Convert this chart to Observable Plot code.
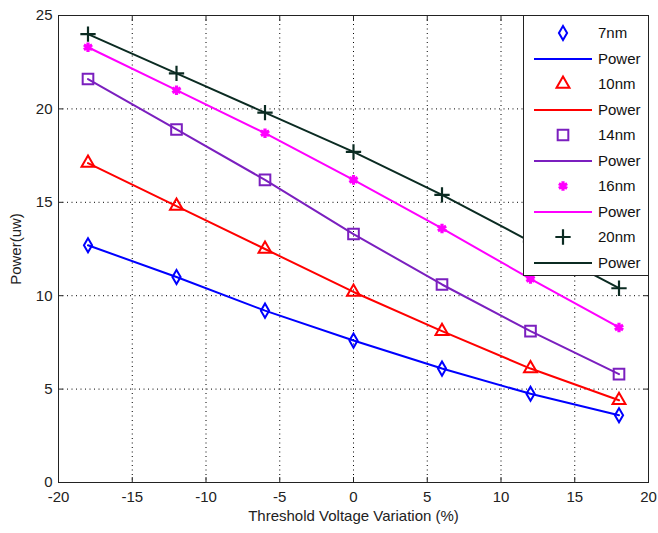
<!DOCTYPE html>
<html>
<head>
<meta charset="utf-8">
<script src="https://cdn.jsdelivr.net/npm/d3@7"></script>
<script src="https://cdn.jsdelivr.net/npm/@observablehq/plot@0.6"></script>
<style>
  html, body { margin: 0; padding: 0; background: #fff; }
  #wrap { position: relative; width: 658px; height: 533px; font-family: "Liberation Sans", Arial, sans-serif; }
  #legend { position: absolute; left: 523px; top: 15px; width: 126px; height: 261px; background: #fff; border: 1px solid #222; box-sizing: border-box; }
  .row { position: absolute; left: 0; height: 26px; width: 126px; }
  .row svg { position: absolute; left: 8px; top: 0; }
  .row span { position: absolute; left: 74px; top: 4px; font-size: 15px; color: #111; }
</style>
</head>
<body>
<div id="wrap"></div>
<script>
const variation = [-18, -12, -6, 0, 6, 12, 18];
const p7nm  = [12.7, 11.0, 9.2, 7.6, 6.1, 4.75, 3.6];
const p10nm = [17.1, 14.8, 12.5, 10.2, 8.1, 6.1, 4.4];
const p14nm = [21.6, 18.9, 16.2, 13.3, 10.6, 8.1, 5.8];
const p16nm = [23.3, 21.0, 18.7, 16.2, 13.6, 10.9, 8.3];
const p20nm = [24.0, 21.9, 19.8, 17.7, 15.4, 12.9, 10.4];
const seriesNames = ["7nm", "10nm", "14nm", "16nm", "20nm"];
const seriesColors = ["#0000ff", "#ff0000", "#7b1fbf", "#ff00ff", "#0b2b22"];
const seriesSymbols = ["diamond", "triangle", "square", "asterisk", "plus"];
const xTicks = [-20, -15, -10, -5, 0, 5, 10, 15, 20];
const yTicks = [0, 5, 10, 15, 20, 25];

const allSeries = [p7nm, p10nm, p14nm, p16nm, p20nm];
const data = [];
allSeries.forEach((vals, i) => vals.forEach((v, j) => data.push({x: variation[j], y: v, s: seriesNames[i]})));

const markerR = {"7nm": 4.3, "10nm": 4.8, "14nm": 6, "16nm": 4.5, "20nm": 5};
const markerW = {"7nm": 2, "10nm": 2, "14nm": 2, "16nm": 3.2, "20nm": 2.2};
const fmt = d => String(d);

const marks = [
  Plot.gridX(xTicks.slice(1, -1), {stroke: "#000", strokeOpacity: 1, strokeDasharray: "1,3.5", strokeWidth: 1}),
  Plot.gridY(yTicks.slice(1, -1), {stroke: "#000", strokeOpacity: 1, strokeDasharray: "1,3.5", strokeWidth: 1}),
  Plot.frame({stroke: "#222", strokeWidth: 1}),
  Plot.axisX({ticks: xTicks, tickFormat: fmt, tickSize: -5, tickPadding: 14, label: "Threshold Voltage Variation (%)", labelAnchor: "center", labelArrow: "none", labelOffset: 38, fontSize: 15}),
  Plot.axisX({ticks: xTicks, anchor: "top", tickSize: -5, tickFormat: () => "", label: null}),
  Plot.axisY({ticks: yTicks, tickFormat: fmt, tickSize: -5, tickPadding: 11, label: "Power(uw)", labelAnchor: "center", labelArrow: "none", labelOffset: 48, fontSize: 15}),
  Plot.axisY({ticks: yTicks, anchor: "right", tickSize: -5, tickFormat: () => "", label: null}),
];
seriesNames.forEach((name, i) => {
  const d = data.filter(r => r.s === name);
  marks.push(Plot.line(d, {x: "x", y: "y", stroke: seriesColors[i], strokeWidth: 2}));
  marks.push(Plot.dot(d, {x: "x", y: "y", stroke: seriesColors[i], fill: "none", symbol: seriesSymbols[i], r: markerR[name], strokeWidth: markerW[name]}));
});

const chart = Plot.plot({
  width: 658, height: 533,
  marginLeft: 58, marginRight: 10, marginTop: 15, marginBottom: 51,
  x: {domain: [-20, 20]},
  y: {domain: [0, 25]},
  style: {fontFamily: "'Liberation Sans', Arial, sans-serif", fontSize: "15px", color: "#222", background: "#fff"},
  marks
});
const wrap = document.getElementById("wrap");
wrap.appendChild(chart);

// legend
const legend = document.createElement("div");
legend.id = "legend";
wrap.appendChild(legend);
let row = 0;
seriesNames.forEach((name, i) => {
  [name, "Power"].forEach((label, k) => {
    const div = document.createElement("div");
    div.className = "row";
    div.style.top = (4 + row * 25.5) + "px";
    const svg = d3.create("svg").attr("width", 60).attr("height", 26);
    if (k === 0) {
      const symName = seriesSymbols[i];
      const sym = {diamond: d3.symbolDiamond, triangle: d3.symbolTriangle, square: d3.symbolSquare, asterisk: d3.symbolAsterisk, plus: d3.symbolPlus}[symName];
      const r = markerR[name];
      svg.append("path").attr("transform", "translate(31,13)")
        .attr("d", d3.symbol(sym, Math.PI * r * r)())
        .attr("fill", "none").attr("stroke", seriesColors[i]).attr("stroke-width", markerW[name]);
    } else {
      svg.append("line").attr("x1", 2).attr("x2", 60).attr("y1", 13).attr("y2", 13)
        .attr("stroke", seriesColors[i]).attr("stroke-width", 2);
    }
    div.appendChild(svg.node());
    const span = document.createElement("span");
    span.textContent = label;
    div.appendChild(span);
    legend.appendChild(div);
    row++;
  });
});
</script>
</body>
</html>
